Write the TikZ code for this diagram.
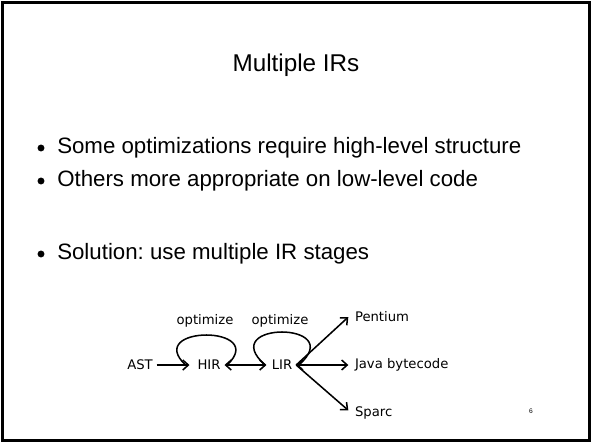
\documentclass[tikz,border=0pt]{standalone}
\usepackage{fontspec}
\setmainfont{Liberation Sans}
\newfontfamily\labelfont{DejaVu Sans}
\usetikzlibrary{arrows.meta}
\frenchspacing
\begin{document}
\begin{tikzpicture}[x=0.75pt,y=-0.75pt,
  titletext/.style={font=\fontsize{18.2}{22}\selectfont},
  bullettext/.style={anchor=west,inner sep=0pt,font=\fontsize{16.7}{20}\selectfont},
  bulletdot/.style={circle,fill=black,inner sep=0pt,minimum size=5.2pt},
  irlabel/.style={inner sep=0pt,outer sep=3pt,font=\labelfont\fontsize{9.9}{12}\selectfont},
  flow/.style={line width=1.15pt,-{Straight Barb[length=4.2pt,width=7.5pt,line width=1.15pt]}},
  twoway/.style={line width=1.15pt,{Straight Barb[length=4.2pt,width=7.5pt,line width=1.15pt]}-{Straight Barb[length=4.2pt,width=7.5pt,line width=1.15pt]}},
  loopline/.style={line width=1.15pt}]
  % page and frame
  \useasboundingbox (0,0) rectangle (593,444);
  \fill[white] (0,0) rectangle (593,444);
  \draw[line width=1.6pt] (2.5,2.5) rectangle (589.5,440.5);

  % title and bullet points
  \node[titletext] (title) at (296,65) {Multiple IRs};
  \node[bulletdot] (d1) at (41,148) {};
  \node[bullettext] (t1) at (57,148) {Some optimizations require high-level structure};
  \node[bulletdot] (d2) at (41,181) {};
  \node[bullettext] (t2) at (57,181) {Others more appropriate on low-level code};
  \node[bulletdot] (d3) at (41,254) {};
  \node[bullettext] (t3) at (57,254) {Solution: use multiple IR stages};

  % compiler pipeline
  \node[irlabel] (ast) at (140,365) {AST};
  \node[irlabel] (hir) at (209,365) {HIR};
  \node[irlabel] (lir) at (282,365) {LIR};
  \node[irlabel,anchor=west] (pent) at (351,317) {Pentium};
  \node[irlabel,anchor=west] (java) at (351,365) {Java bytecode};
  \node[irlabel,anchor=west] (sparc) at (351,413) {Sparc};
  \node[irlabel] (opt1) at (205,321) {optimize};
  \node[irlabel] (opt2) at (280,321) {optimize};

  \draw[flow] (ast.east) -- ([xshift=-3pt]hir.west);
  \draw[twoway] (hir.east) -- ([xshift=-1pt]lir.west);
  \draw[twoway] (lir.east) -- ([xshift=-2pt]java.west);
  \draw[flow] (lir.east) -- ([xshift=-2pt]pent.west);
  \draw[flow] (lir.east) -- ([xshift=-2pt,yshift=2pt]sparc.west);

  % optimization loops
  \draw[loopline] ([xshift=-6pt]hir.west) .. controls +(-42,-40) and +(42,-40) .. ([xshift=2pt]hir.east);
  \draw[loopline] ([xshift=-2pt]lir.west) .. controls +(-50,-44) and +(50,-44) .. ([xshift=2pt]lir.east);

  % page number
  \node[font=\fontsize{5}{6}\selectfont,inner sep=0pt] (pg) at (531,411) {6};
\end{tikzpicture}
\end{document}
